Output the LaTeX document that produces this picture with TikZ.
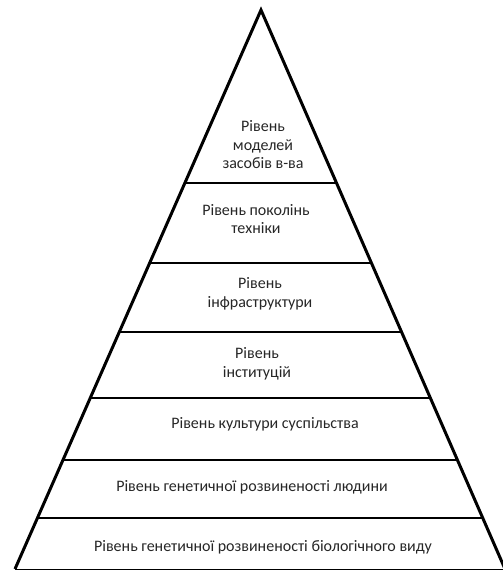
\documentclass[tikz,border=0pt]{standalone}
\usepackage{fontspec}
\setmainfont{Carlito}
\usetikzlibrary{calc}

\begin{document}
\begin{tikzpicture}[x=1pt,y=-1pt,every node/.style={align=center,font=\fontsize{16}{18.5}\selectfont,text=black!85},
  level/.style={line width=2.6pt}]
\useasboundingbox (0,0) rectangle (503,570);
\clip (0,0) rectangle (503,570);
\coordinate (top) at (261,10);
\coordinate (bl) at (15,569);
\coordinate (br) at (505,569);

\draw[line width=3pt, line join=miter] (bl) -- (top) -- (br);
\draw[line width=1pt] (bl) -- (br);

\foreach \t in {0.3095,0.4526,0.576,0.694,0.805,0.9088}
  \draw[level] ($(top)!\t!(bl)$) -- ($(top)!\t!(br)$);

\node (l1) at (263,145) {Рівень\\моделей\\засобів в-ва};
\node (l2) at (256,219) {Рівень поколінь\\техніки};
\node (l3) at (260,294) {Рівень\\інфраструктури};
\node (l4) at (257,364) {Рівень\\інституцій};
\node (l5) at (265,424) {Рівень культури суспільства};
\node (l6) at (252,487) {Рівень генетичної розвиненості людини};
\node (l7) at (263,547) {Рівень генетичної розвиненості біологічного виду};
\end{tikzpicture}
\end{document}
